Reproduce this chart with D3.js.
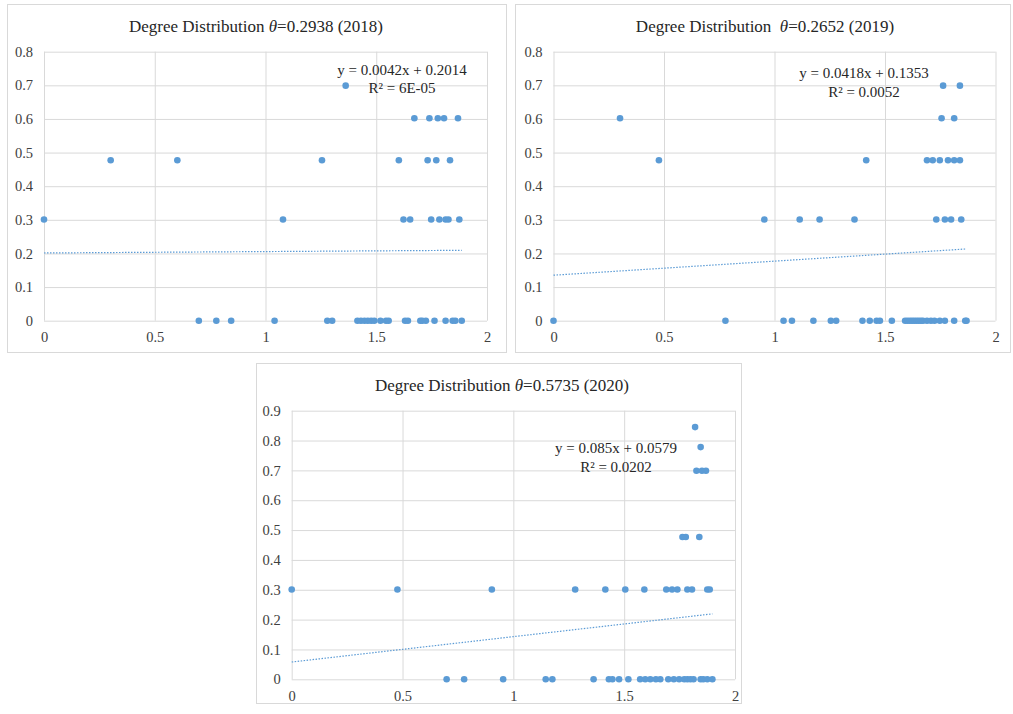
<!DOCTYPE html>
<html>
<head>
<meta charset="utf-8">
<script src="https://cdn.jsdelivr.net/npm/d3@7"></script>
<style>
  body { margin: 0; background: #fff; }
  svg { display: block; }
  text { font-family: "Liberation Serif", "Times New Roman", serif; white-space: pre; }
</style>
</head>
<body>
<div id="grafico"></div>
<script>
// 1) dados (log10 grau x log10 frequência) ---------------------------------
const x2018 = [0, 0.301, 0.602, 0.699, 0.778, 0.845, 1.041, 1.079, 1.255, 1.279, 1.301, 1.362,
  1.415, 1.431, 1.447, 1.462, 1.477, 1.491, 1.519, 1.544, 1.556, 1.602, 1.623, 1.653, 1.672,
  1.630, 1.643, 1.699, 1.708, 1.724, 1.763, 1.813, 1.845, 1.857, 1.886,
  1.732, 1.771, 1.833, 1.740, 1.778, 1.806, 1.869, 1.748, 1.785, 1.813, 1.826, 1.875];
const y2018 = [0.301, 0.477, 0.477, 0, 0, 0, 0, 0.301, 0.477, 0, 0, 0.699,
  0, 0, 0, 0, 0, 0, 0, 0, 0, 0.477, 0.301, 0.301, 0.602,
  0, 0, 0, 0, 0, 0, 0, 0, 0, 0,
  0.477, 0.477, 0.477, 0.602, 0.602, 0.602, 0.602, 0.301, 0.301, 0.301, 0.301, 0.301];

const x2019 = [0, 0.301, 0.477, 0.778, 0.954, 1.041, 1.079, 1.114, 1.176, 1.204, 1.255, 1.279,
  1.362, 1.398, 1.415, 1.431, 1.462, 1.477, 1.531,
  1.591, 1.602, 1.613, 1.623, 1.633, 1.643, 1.653, 1.663, 1.672, 1.690, 1.708, 1.724,
  1.748, 1.771, 1.813, 1.863, 1.869,
  1.763, 1.839, 1.756, 1.813, 1.690, 1.716, 1.748, 1.785, 1.813, 1.839,
  1.732, 1.771, 1.799, 1.845];
const y2019 = [0, 0.602, 0.477, 0, 0.301, 0, 0, 0.301, 0, 0.301, 0, 0,
  0.301, 0, 0.477, 0, 0, 0, 0,
  0, 0, 0, 0, 0, 0, 0, 0, 0, 0, 0, 0,
  0, 0, 0, 0, 0,
  0.699, 0.699, 0.602, 0.602, 0.477, 0.477, 0.477, 0.477, 0.477, 0.477,
  0.301, 0.301, 0.301, 0.301];

const x2020 = [0, 0.477, 0.903, 0.699, 0.778, 0.954, 1.146, 1.176, 1.279, 1.362, 1.415, 1.431,
  1.447, 1.477, 1.505, 1.519, 1.591,
  1.572, 1.595, 1.618, 1.643, 1.663, 1.699, 1.724, 1.748, 1.771, 1.785, 1.799, 1.813,
  1.845, 1.857, 1.875, 1.898,
  1.690, 1.716, 1.740, 1.785, 1.806, 1.875, 1.886,
  1.763, 1.778, 1.839, 1.826, 1.851, 1.869, 1.845, 1.820];
const y2020 = [0.301, 0.301, 0.301, 0, 0, 0, 0, 0, 0.301, 0, 0.301, 0,
  0, 0, 0.301, 0, 0.301,
  0, 0, 0, 0, 0, 0, 0, 0, 0, 0, 0, 0,
  0, 0, 0, 0,
  0.301, 0.301, 0.301, 0.301, 0.301, 0.301, 0.301,
  0.477, 0.477, 0.477, 0.699, 0.699, 0.699, 0.778, 0.845];

// linhas de tendência (coeficientes dos rótulos)
const slopes = [0.0042, 0.0418, 0.085];
const intercepts = [0.2014, 0.1353, 0.0579];
const eqLabels = ["y = 0.0042x + 0.2014", "y = 0.0418x + 0.1353", "y = 0.085x + 0.0579"];
const r2Labels = ["R² = 6E-05", "R² = 0.0052", "R² = 0.0202"];
const titleBefore = ["Degree Distribution ", "Degree Distribution  ", "Degree Distribution "];
const titleAfter = ["=0.2938 (2018)", "=0.2652 (2019)", "=0.5735 (2020)"];
const yMaxes = [0.8, 0.8, 0.9];
const xTicks = [0, 0.5, 1, 1.5, 2];

// 2) medidas de cada painel -----------------------------------------
const paineis = [
  { box: [7, 4, 499, 348], left: 44, right: 487, top: 51.7, bottom: 320.7,
    titleX: 256, titleY: 32, eqX: 402, eqY: 75, r2Y: 93, xs: x2018, ys: y2018 },
  { box: [515, 4, 495, 348], left: 553.5, right: 995.5, top: 51.7, bottom: 320.7,
    titleX: 765, titleY: 32, eqX: 864, eqY: 78, r2Y: 96.5, xs: x2019, ys: y2019 },
  { box: [256, 363, 485, 340], left: 291.7, right: 735, top: 410.7, bottom: 679.3,
    titleX: 502, titleY: 391, eqX: 616, eqY: 453, r2Y: 471.5, xs: x2020, ys: y2020 }
];

const cor = "#5b9bd5";
const grade = "#d9d9d9";
const fonte = "'Liberation Serif', 'Times New Roman', serif";

// 3) svg -----------------------------------------
const svg = d3.select("#grafico")
  .append("svg")
    .attr("width", 1013)
    .attr("height", 714);

// 4) cada painel -----------------------------------------
paineis.forEach((p, i) => {
  const g = svg.append("g");

  g.append("rect")
    .attr("x", p.box[0] + 0.5).attr("y", p.box[1] + 0.5)
    .attr("width", p.box[2]).attr("height", p.box[3])
    .attr("fill", "#fff").attr("stroke", grade);

  const x = d3.scaleLinear().domain([0, 2]).range([p.left, p.right]);
  const y = d3.scaleLinear().domain([0, yMaxes[i]]).range([p.bottom, p.top]);
  const yTicks = d3.range(0, Math.round(yMaxes[i] * 10) + 1).map(k => k / 10);

  // grade horizontal e eixo Y
  g.append("g")
    .attr("transform", `translate(${p.left},0)`)
    .call(d3.axisLeft(y).tickValues(yTicks).tickSize(-(p.right - p.left)).tickPadding(11)
      .tickFormat(d => d === 0 ? "0" : d3.format(".1f")(d)))
    .attr("font-family", null)
    .call(a => a.select(".domain").remove())
    .call(a => a.selectAll("line").attr("stroke", grade))
    .call(a => a.selectAll("text").attr("fill", "#404040")
      .style("font-family", fonte).style("font-size", "14.5px"));

  // grade vertical e eixo X
  g.append("g")
    .attr("transform", `translate(0,${p.bottom})`)
    .call(d3.axisBottom(x).tickValues(xTicks).tickSize(-(p.bottom - p.top)).tickPadding(11)
      .tickFormat(d3.format("")))
    .attr("font-family", null)
    .call(a => a.select(".domain").remove())
    .call(a => a.selectAll("line").attr("stroke", grade))
    .call(a => a.selectAll("text").attr("fill", "#404040")
      .style("font-family", fonte).style("font-size", "14.5px"));

  // linha de tendência
  const xFim = d3.max(p.xs);
  g.append("line")
    .attr("x1", x(0)).attr("y1", y(intercepts[i]))
    .attr("x2", x(xFim)).attr("y2", y(intercepts[i] + slopes[i] * xFim))
    .attr("stroke", cor).attr("stroke-width", 1.2)
    .attr("stroke-dasharray", "1.5,1.5");

  // pontos
  g.append("g")
    .selectAll("circle")
    .data(p.xs.map((v, k) => [v, p.ys[k]]))
    .join("circle")
      .attr("cx", d => x(d[0]))
      .attr("cy", d => y(d[1]))
      .attr("r", 3.3)
      .attr("fill", cor);

  // título
  const t = g.append("text")
    .attr("x", p.titleX).attr("y", p.titleY)
    .attr("text-anchor", "middle")
    .attr("font-size", "17px").attr("fill", "#262626");
  t.append("tspan").text(titleBefore[i]);
  t.append("tspan").attr("font-style", "italic").text("θ");
  t.append("tspan").text(titleAfter[i]);

  // equação e R²
  g.append("text")
    .attr("x", p.eqX).attr("y", p.eqY)
    .attr("text-anchor", "middle").attr("font-size", "15px").attr("fill", "#262626")
    .text(eqLabels[i]);
  g.append("text")
    .attr("x", p.eqX).attr("y", p.r2Y)
    .attr("text-anchor", "middle").attr("font-size", "15px").attr("fill", "#262626")
    .text(r2Labels[i]);
});
</script>
</body>
</html>
